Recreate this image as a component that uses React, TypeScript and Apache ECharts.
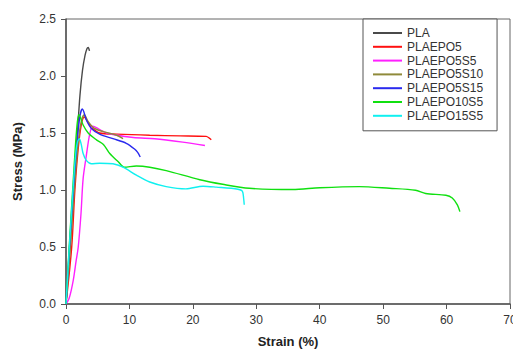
import React, { useEffect, useRef } from "react";
import * as echarts from "echarts";

const seriesNames = ["PLA", "PLAEPO5", "PLAEPO5S5", "PLAEPO5S10", "PLAEPO5S15", "PLAEPO10S5", "PLAEPO15S5"];
const seriesColors = ["#4a4a4a", "#ff1010", "#ff20ff", "#8f8a3a", "#2a2aee", "#10e010", "#10f0f0"];

const pla = [[0, 0], [0.5, 0.4], [1, 0.8], [1.5, 1.25], [1.8, 1.5], [2.2, 1.83], [2.6, 2.05], [3, 2.18], [3.3, 2.24], [3.5, 2.25], [3.7, 2.22]];
const plaepo5 = [[0, 0], [0.9, 0.5], [1.4, 1.0], [1.9, 1.35], [2.4, 1.57], [2.9, 1.64], [3.4, 1.6], [4, 1.55], [5.3, 1.5], [8, 1.49], [13.2, 1.48], [18, 1.475], [22.1, 1.47], [22.6, 1.455], [22.9, 1.44]];
const plaepo5s5 = [[0, 0], [0.5, 0.05], [1.15, 0.21], [1.6, 0.38], [1.93, 0.5], [2.36, 0.79], [2.7, 1.1], [3.2, 1.3], [3.7, 1.48], [4.2, 1.56], [4.7, 1.55], [6.4, 1.5], [10.6, 1.46], [14, 1.45], [18.4, 1.42], [21.9, 1.39]];
const plaepo5s10 = [[0, 0], [0.7, 0.5], [1.3, 1.0], [1.9, 1.4], [2.4, 1.6], [2.9, 1.66], [3.5, 1.6], [4.5, 1.54], [6, 1.51], [8, 1.48], [9, 1.45]];
const plaepo5s15 = [[0, 0], [0.55, 0.5], [1.15, 1.0], [1.7, 1.4], [2.2, 1.65], [2.57, 1.71], [3.25, 1.61], [4, 1.54], [5.3, 1.49], [7.4, 1.45], [9.5, 1.41], [10.8, 1.36], [11.3, 1.33], [11.7, 1.29]];
const plaepo10s5 = [[0, 0], [0.5, 0.5], [1.05, 1.0], [1.5, 1.4], [1.8, 1.6], [2.05, 1.66], [2.7, 1.57], [3.5, 1.5], [4.8, 1.44], [5.9, 1.4], [6.9, 1.32], [8.2, 1.25], [9.2, 1.2], [11.1, 1.21], [13.2, 1.2], [15.8, 1.17], [21.1, 1.09], [24.7, 1.05], [28.9, 1.015], [35.7, 1.004], [40, 1.02], [46.2, 1.03], [51, 1.015], [55.1, 0.998], [56.7, 0.969], [59.9, 0.954], [60.9, 0.93], [61.7, 0.87], [62.1, 0.81]];
const plaepo15s5 = [[0, 0], [0.5, 0.48], [1.1, 1.0], [1.5, 1.3], [1.8, 1.42], [2.1, 1.45], [2.4, 1.4], [2.7, 1.32], [3.2, 1.26], [4, 1.23], [5.3, 1.235], [7.4, 1.23], [9.0, 1.2], [11.1, 1.13], [13.2, 1.07], [15.8, 1.03], [18.9, 1.01], [21.6, 1.033], [23.7, 1.025], [27.1, 1.007], [27.8, 0.99], [28.0, 0.93], [28.1, 0.87]];

const seriesData = [pla, plaepo5, plaepo5s5, plaepo5s10, plaepo5s15, plaepo10s5, plaepo15s5];

const xTicks = { min: 0, max: 70, interval: 10 };
const yTicks = { min: 0, max: 2.5, interval: 0.5 };

const FONT = "'Liberation Sans', Arial, sans-serif";

export default function App() {
  const ref = useRef<HTMLDivElement>(null);
  useEffect(() => {
    if (!ref.current) return;
    const chart = echarts.init(ref.current, undefined, { renderer: "svg" });
    chart.setOption({
      animation: false,
      backgroundColor: "#ffffff",
      textStyle: { fontFamily: FONT },
      grid: {
        left: 66, right: 3, top: 19, bottom: 46,
        containLabel: false,
        outerBoundsMode: "none",
        show: true, borderColor: "#666", borderWidth: 1, backgroundColor: "transparent",
      },
      legend: {
        orient: "vertical",
        left: 363,
        top: 19,
        padding: [8, 14, 9, 10],
        icon: "rect",
        itemWidth: 29,
        itemHeight: 2,
        itemGap: 1.8,
        borderColor: "#555",
        borderWidth: 1,
        backgroundColor: "#fff",
        textStyle: { fontFamily: FONT, fontSize: 12, color: "#333", lineHeight: 12 },
        data: seriesNames,
      },
      xAxis: {
        type: "value",
        min: xTicks.min, max: xTicks.max, interval: xTicks.interval,
        name: "Strain (%)",
        nameLocation: "middle",
        nameGap: 31,
        nameTextStyle: { fontFamily: FONT, fontSize: 13, fontWeight: "bold", color: "#222" },
        axisLine: { show: true, onZero: false, lineStyle: { color: "#555", width: 1.5 } },
        axisTick: { show: true, inside: false, length: 5, lineStyle: { color: "#555" } },
        axisLabel: { margin: 10, fontSize: 12, color: "#333", fontFamily: FONT },
        splitLine: { show: false },
      },
      yAxis: {
        type: "value",
        min: yTicks.min, max: yTicks.max, interval: yTicks.interval,
        name: "Stress (MPa)",
        nameLocation: "middle",
        nameGap: 42,
        nameTextStyle: { fontFamily: FONT, fontSize: 13, fontWeight: "bold", color: "#222" },
        axisLine: { show: true, onZero: false, lineStyle: { color: "#555", width: 1.5 } },
        axisTick: { show: true, inside: false, length: 5, lineStyle: { color: "#555" } },
        axisLabel: { margin: 10, fontSize: 12, color: "#333", fontFamily: FONT, formatter: (v: number) => v.toFixed(1) },
        splitLine: { show: false },
      },
      series: seriesNames.map((name, i) => ({
        name,
        type: "line",
        data: seriesData[i],
        showSymbol: false,
        symbol: "none",
        smooth: 0.3,
        lineStyle: { color: seriesColors[i], width: 1.4 },
        itemStyle: { color: seriesColors[i] },
        z: 2,
      })),
    });
    return () => chart.dispose();
  }, []);
  return <div ref={ref} style={{ position: "absolute", left: 0, top: 0, width: 513, height: 350 }} />;
}
